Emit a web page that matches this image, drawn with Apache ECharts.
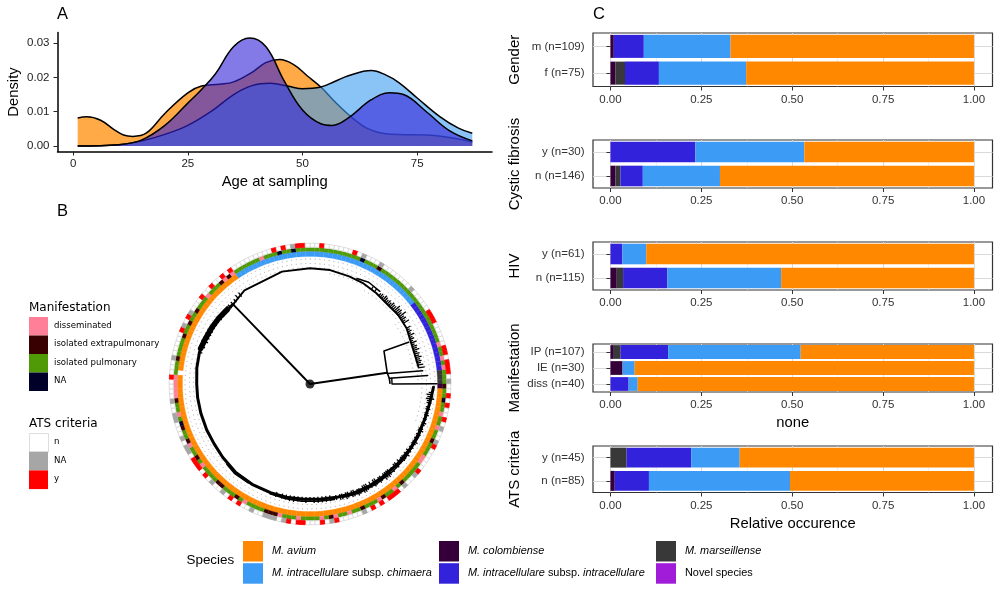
<!DOCTYPE html>
<html><head><meta charset="utf-8">
<style>html,body{margin:0;padding:0;background:#fff}#c{width:1000px;height:591px}</style>
<script src="https://cdn.jsdelivr.net/npm/echarts@6/dist/echarts.min.js"></script>
</head><body><div id="c"></div>
<script>
// ---------- data ----------
const speciesNames = ['M. colombiense','M. marseillense','M. intracellulare subsp. intracellulare','M. intracellulare subsp. chimaera','M. avium','Novel species'];
const speciesColors = ['#35003a','#383838','#3222dc','#3c9bf5','#ff8800','#a01cd8'];

const ageAvium = [[1,.0082],[3,.0085],[6,.0075],[9,.0047],[11,.0032],[13,.0028],[16,.0038],[20,.0095],[25,.0155],[28,.0175],[32,.0180],[35,.0187],[39,.0215],[42,.0243],[45,.0252],[48,.0238],[51,.0205],[54,.0172],[57,.0130],[60,.0092],[64,.0052],[68,.0036],[72,.0033],[77,.0032],[82,.0025],[87,.0012]];
const ageChimaera = [[1,0],[10,.0004],[15,.0015],[20,.0034],[25,.0060],[30,.0100],[35,.0150],[39,.0176],[43,.0183],[47,.0174],[50,.0167],[54,.0172],[57,.0188],[60,.0205],[65,.0220],[68,.0208],[71,.0185],[75,.0140],[80,.0085],[84,.0052],[87,.0037]];
const ageIntracellulare = [[1,0],[10,.0004],[15,.0018],[20,.0060],[25,.0125],[28,.0165],[31,.0210],[35,.0290],[38.5,.0315],[42,.0290],[46,.0190],[50,.0105],[54,.0065],[56.5,.0060],[60,.0082],[65,.0135],[69,.0155],[72,.0150],[77,.0100],[82,.0045],[87,.0015]];
const ageTicks = [0,25,50,75];
const densityTicks = [0,.01,.02,.03];
const shareTicks = [0,.25,.5,.75,1];
const shareMinorTicks = [.125,.375,.625,.875];

// each row: colombiense, marseillense, intracellulare, chimaera, avium, novel (bottom row first)
const genderLabels = ['f (n=75)','m (n=109)'];
const genderRows = [[.0133,.0267,.0933,.24,.6267,0],[.0092,0,.0826,.2385,.6697,0]];
const cfLabels = ['n (n=146)','y (n=30)'];
const cfRows = [[.0137,.0137,.0616,.2123,.6987,0],[0,0,.2333,.3,.4667,0]];
const hivLabels = ['n (n=115)','y (n=61)'];
const hivRows = [[.0174,.0174,.1217,.313,.5305,0],[0,0,.0328,.0656,.9016,0]];
const manifLabels = ['diss (n=40)','IE (n=30)','IP (n=107)'];
const manifRows = [[0,0,.05,.025,.925,0],[.0333,0,0,.0333,.9334,0],[.0093,.0187,.1308,.3645,.4767,0]];
const atsLabels = ['n (n=85)','y (n=45)'];
const atsRows = [[.0118,0,.0941,.388,.5061,0],[0,.0444,.1778,.1333,.6445,0]];

// rings: one cell per 2 degrees, clockwise from the top
const ringCells = 180;
const speciesRuns = [[3,26],[2,16],[1,3],[0,1],[4,91],[-1,1],[4,25],[3,17]];
const manifDisseminated = [36,39,41,51,54,61,62,70,74,81,84,87,92,96,104,116,121,128,132,133,134,135,136,155,160,162,169];
const manifExtrapulmonary = [15,45,57,68,73,78,85,97,98,99,106,110,111,118,122,125,131,140,145,148,151,159,161];
const manifMissing = [11,48,126,173,176];
const atsYes = [2,9,29,30,31,37,38,40,41,42,47,49,52,58,64,70,71,72,74,76,84,87,91,92,94,105,107,114,116,117,118,136,146,149,154,157,160,162,172,174,177,178];
const atsMissing = [11,15,23,44,54,57,65,68,78,85,95,97,98,99,102,109,112,120,121,123,127,128,131,140,147,150,176];

// tree, as [radius, clockwise angle]
const treeTrunkA = [[0,0],[110.7,316]];
const treeTrunkB = [[0,0],[78,81.7]];
const treeNode = [[107,67],[81,66],[78,81.7],[79.5,86],[80,89.5]];
const treeTipA = [[78,82.3],[113.5,83.3]];
const treeTipB = [[79.5,85.9],[118,85.9]];
const treeTipC = [[82,86],[82,90],[127,89.9]];
const treeLower = [[123.5,91.5],[122,96],[121,100],[120,107],[119.5,115],[119.3,123],[118.5,132],[118,142],[118,150],[117.5,158],[116.5,166],[115.6,175],[115.5,183],[115.7,191],[115.7,200],[115.8,210],[115.5,220],[114,230],[113,238],[113,246],[113,255],[113.2,263],[113.3,270],[114.3,278],[115,286],[114,293],[113,300],[112.4,306],[111.3,312],[110.7,316]];
const treeUpper = [[110.7,316],[114.3,325],[115.8,346],[115.7,0],[115.7,10],[114.5,20],[113.9,28],[112.5,36],[111,45],[112,52],[111.5,60],[108.8,72],[109.7,81]];
const treeThick = [[115,288],[114,293],[113.2,300],[112.4,306],[111.3,312]];
const treeDoubleA = [[115.5,24],[117.5,30],[116,37]];
const treeDoubleB = [[118,168],[117.6,176],[117.6,184],[117.2,192],[116.8,200]];
const treeDoubleC = [[120.5,106],[120.8,116],[120.6,128],[120.3,136],[120,146],[119.5,156],[118,164]];
const treeDoubleD = [[116.8,212],[117.2,220],[115.7,226]];
const treeSpikes = [[60,111,116],[61,111,114],[62,111,115],[63,110,113],[64,110,116],[65,110,113],[66,109,114],[67,109,112],[68,109,115],[69,109,112],[70,109,114],[71,109,113],[72,109,115],[73,109,112],[74,109,114],[75,109,113],[76,109,115],[77,109,113],[78,109,114],[79,109,113],[80,109,115],[81.5,109,116],
[38,112,115],[39,112,116],[40,112,115],[41,112,117],[42,111,116],[43,111,115],[44,111,116],[45,111,115],[46,111,117],[47,111,116],[48,111,116],[49,111,119],[50,111,117],[51,111,118],[52,111,116],[53,111,120],[54,111,116],[55,111,117],[56,111,115],[57,111,118],[33,113,116],[35,113,116],
[93,122,124],[94,119,123],[95,117,122],[96,118,124],[97,117,125],[98,118,122],[99,118,123],[101,118,122],[102,118,123],[104,118,122],[105,118,123],[107,118,122],[109,118,123],[110,118,122],[112,117,122],[113,117,123],[115,117,122],[117,117,121],[119,117,123],[120,117,122],[122,117,122],[124,116,122],[126,116,123],[128,116,122],[129,116,122],[131,115,121],[133,115,122],[134,115,121],[136,116,122],[138,115,122],[139,115,123],[140,115,122],[141,115,123],[143,115,121],[144,115,122],[146,114,121],[147,114,122],[149,114,121],[151,114,121],[152,114,122],[153,114,122],[155,115,121],[156,115,122],[158,114,121],[159,114,121],[161,114,120],[162,114,121],[164,114,120],[165,114,120],[167,114,119],[170,113,119],[172,113,119],[174,113,119],[176,113,119],[178,113,119],[180,113,118],[182,113,119],[184,113,118],[186,113,118],[188,113,119],[190,113,119],[192,113,118],[194,113,118],[197,113,118],
[286,112,116],[289,111,117],[292,110,117],[294,110,116],[296,110,116],[298,110,116],[300,110,115],[302,110,115],[304,110,115],[306,109,115],[308,109,114],[310,109,114],[311,109,114],[313,109,114],[314,109,114],[316,109,114],[318,110,114],[320,111,116],[322,111,116]];
const dotRings = [[125,0,360],[120.5,0,360],[116.5,0,360],[112,10,110],[108,30,90],[104,55,82]];

const treeLegendTitles = ['Manifestation','ATS criteria'];
const manifestationKeys = ['disseminated','isolated extrapulmonary','isolated pulmonary','NA'];
const manifestationColors = ['#ff7f98','#380000','#4f9a06','#000028'];
const atsKeys = ['n','NA','y'];
const atsColors = ['#ffffff','#a6a6a6','#ff0000'];

// ---------- build ----------
const FONT = '"Liberation Sans", Arial, sans-serif';
const CX = 310, CY = 384;
const chart = echarts.init(document.getElementById('c'), null, {renderer:'canvas'});
const grids = [], xAxes = [], yAxes = [], series = [];

// density panel
grids.push({left:57.5, width:434.5, top:32.5, height:119, containLabel:false});
xAxes.push({type:'value', gridIndex:0, min:-3.4, max:91.3, splitLine:{show:false},
  axisLine:{onZero:false, lineStyle:{color:'#000', width:1.5}},
  axisTick:{customValues:ageTicks, length:4, lineStyle:{color:'#222', width:1}},
  axisLabel:{customValues:ageTicks, color:'#222', fontFamily:FONT, fontSize:11.5, margin:6},
  name:'Age at sampling', nameLocation:'middle', nameGap:23, nameTextStyle:{color:'#000', fontFamily:FONT, fontSize:14.8}});
yAxes.push({type:'value', gridIndex:0, min:-0.0016, max:.0331, splitLine:{show:false},
  axisLine:{onZero:false, show:true, lineStyle:{color:'#000', width:1.5}},
  axisTick:{show:true, customValues:densityTicks, length:4, lineStyle:{color:'#222', width:1}},
  axisLabel:{customValues:densityTicks, color:'#222', fontFamily:FONT, fontSize:11.5, margin:8, formatter:v=>v.toFixed(2)},
  name:'Density', nameLocation:'middle', nameGap:36, nameTextStyle:{color:'#000', fontFamily:FONT, fontSize:14.8}});
[['Density avium',ageAvium,'rgba(255,136,0,.72)'],['Density chimaera',ageChimaera,'rgba(60,155,240,.6)'],['Density intracellulare',ageIntracellulare,'rgba(50,34,215,.6)']].forEach((d,i)=>{
  series.push({type:'line', name:d[0], xAxisIndex:0, yAxisIndex:0, data:d[1], smooth:.4, showSymbol:false, z:3+i, silent:true,
    lineStyle:{color:'#000', width:1.5}, areaStyle:{color:d[2], opacity:1}});
});

// share panels
const panels = [
 {title:'Gender', labels:genderLabels, rows:genderRows, top:33, bottom:86.5},
 {title:'Cystic fibrosis', labels:cfLabels, rows:cfRows, top:140, bottom:188},
 {title:'HIV', labels:hivLabels, rows:hivRows, top:242, bottom:290},
 {title:'Manifestation', labels:manifLabels, rows:manifRows, top:344, bottom:392, xName:'none'},
 {title:'ATS criteria', labels:atsLabels, rows:atsRows, top:446, bottom:492.5, xName:'Relative occurence'}
];
panels.forEach((p,i)=>{
  const g = i+1;
  grids.push({left:593, width:399.5, top:p.top, height:p.bottom-p.top, show:true, borderColor:'#333', borderWidth:1.2, backgroundColor:'transparent'});
  const xi = xAxes.length;
  xAxes.push({type:'value', gridIndex:g, min:-.048, max:1.051,
    axisLine:{show:false},
    axisTick:{show:true, customValues:shareTicks, length:4, lineStyle:{color:'#333', width:1}},
    splitLine:{show:true, lineStyle:{color:'#d9d9d9', width:1}},
    axisLabel:{customValues:shareTicks, color:'#333', fontFamily:FONT, fontSize:11.5, margin:7, formatter:v=>v.toFixed(2)},
    name:p.xName||'', nameLocation:'middle', nameGap:23.5, nameTextStyle:{color:'#000', fontFamily:FONT, fontSize:14.8}});
  xAxes.push({type:'value', gridIndex:g, min:-.048, max:1.051, position:'top',
    axisLine:{show:false}, axisLabel:{show:false},
    axisTick:{show:false, customValues:shareMinorTicks},
    splitLine:{show:true, lineStyle:{color:'#e6e6e6', width:.6}}});
  const yi = yAxes.length;
  yAxes.push({type:'category', gridIndex:g, data:p.labels,
    axisLine:{show:false},
    axisTick:{show:true, alignWithLabel:true, length:4, lineStyle:{color:'#333', width:1}},
    splitLine:{show:true, alignWithLabel:true, lineStyle:{color:'#d9d9d9', width:1}},
    axisLabel:{color:'#333', fontFamily:FONT, fontSize:11.5, margin:8.5},
    name:p.title, nameLocation:'middle', nameGap:71, nameTextStyle:{color:'#000', fontFamily:FONT, fontSize:15}});
  speciesNames.forEach((n,s)=>{
    series.push({type:'bar', name:n, xAxisIndex:xi, yAxisIndex:yi, stack:'p'+i, barWidth:'86%', silent:true,
      itemStyle:{color:speciesColors[s]}, data:p.rows.map(r=>r[s]), z:4});
  });
});

// rings
function sectorItem(params, api, r0v, r1v, a0, a1, style){
  const cs = params.coordSys;
  const R = v => { const p = api.coord([v,0]); return Math.hypot(p[0]-cs.cx, p[1]-cs.cy); };
  return {type:'sector', shape:{cx:cs.cx, cy:cs.cy, r0:R(r0v), r:R(r1v),
    startAngle:(a0-90)*Math.PI/180, endAngle:(a1-90)*Math.PI/180, clockwise:true}, style};
}
function cellsFromRuns(runs){ const out=[]; let at=0; runs.forEach(r=>{ for(let k=0;k<r[1];k++) out.push([at++, r[0]]); }); return out; }
const speciesCells = cellsFromRuns(speciesRuns);
const manifCells = [], atsCells = [];
for(let i=0;i<ringCells;i++){
  manifCells.push([i, manifDisseminated.includes(i)?0:manifExtrapulmonary.includes(i)?1:manifMissing.includes(i)?3:2]);
  atsCells.push([i, atsYes.includes(i)?2:atsMissing.includes(i)?1:0]);
}
const step = 360/ringCells;
const polarBase = {coordinateSystem:'polar', polarIndex:0, silent:true};
series.push({...polarBase, type:'custom', name:'Dotted rings', z:2, data:dotRings, renderItem:(params,api)=>{
  const cs=params.coordSys, p=api.coord([api.value(0),0]);
  return {type:'arc', shape:{cx:cs.cx, cy:cs.cy, r:Math.hypot(p[0]-cs.cx,p[1]-cs.cy),
    startAngle:(api.value(1)-90)*Math.PI/180, endAngle:(api.value(2)-90)*Math.PI/180, clockwise:true},
    style:{fill:null, stroke:'#9a9a9a', lineWidth:.9, lineDash:[1,3.7]}};
}});
series.push({...polarBase, type:'custom', name:'Species ring', z:3, data:speciesCells, renderItem:(params,api)=>{
  const i=api.value(0), c=api.value(1);
  const col = c<0 ? '#ffffff' : speciesColors[c];
  return sectorItem(params,api,127.6,132.8,i*step,(i+1)*step,{fill:col, stroke:col, lineWidth:.3});
}});
series.push({...polarBase, type:'custom', name:'Manifestation ring', z:3, data:manifCells, renderItem:(params,api)=>{
  const i=api.value(0), col=manifestationColors[api.value(1)];
  return sectorItem(params,api,132.8,136.6,i*step,(i+1)*step,{fill:col, stroke:col, lineWidth:.3});
}});
series.push({...polarBase, type:'custom', name:'ATS ring', z:3, data:atsCells, renderItem:(params,api)=>{
  const i=api.value(0), col=atsColors[api.value(1)];
  return sectorItem(params,api,136.8,140.8,i*step,(i+1)*step,{fill:col, stroke:col==='#ffffff'?'#d4d4d4':col, lineWidth:.8});
}});
// tree
[[treeTrunkA,1.9],[treeTrunkB,1.9],[treeNode,1.6],[treeTipA,1.4],[treeTipB,1.4],[treeTipC,1.4],[treeLower,3],[treeUpper,1.9],[treeThick,5.5],[treeDoubleA,1.4],[treeDoubleB,1.6],[treeDoubleC,1.6],[treeDoubleD,1.3]].forEach((t,i)=>{
  series.push({...polarBase, type:'line', name:'Tree '+i, data:t[0], showSymbol:false, clip:false, z:5, lineStyle:{color:'#000', width:t[1], cap:'round', join:'round'}});
});
series.push({...polarBase, type:'custom', name:'Tree tips', z:5, data:treeSpikes, renderItem:(params,api)=>{
  const a=api.value(0), p=api.coord([api.value(1),a]), q=api.coord([api.value(2),a]);
  return {type:'line', shape:{x1:p[0],y1:p[1],x2:q[0],y2:q[1]}, style:{stroke:'#000', lineWidth:1.3}};
}});
series.push({...polarBase, type:'scatter', name:'Tree root', data:[[0,0]], symbolSize:9, z:6, itemStyle:{color:'#000'}});

// legends
const rich = {i:{fontStyle:'italic', fontFamily:FONT, fontSize:10.9, color:'#000'}, n:{fontFamily:FONT, fontSize:10.9, color:'#000'}, s:{width:4, fontSize:10.9}};
const legendText = name => {
  const m = name.match(/^(M\. intracellulare) (subsp\.) (.*)$/);
  if (m) return `{s| }{i|${m[1]}}{n| ${m[2]} }{i|${m[3]}}`;
  return name.startsWith('M.') ? `{s| }{i|${name}}` : `{s| }{n|${name}}`;
};
const mkLegend = (left,names)=>({left, top:541, orient:'vertical', icon:'rect', itemWidth:20, itemHeight:20.5, itemGap:1.7,
  selectedMode:false, data:names, formatter:legendText, textStyle:{rich, fontFamily:FONT, fontSize:10.9}, padding:0, itemStyle:{borderWidth:0}});

const graphics = [];
const txt = (x,y,t,font,extra)=>graphics.push({type:'text', left:x, top:y, silent:true, style:Object.assign({text:t, font, fill:'#000'}, extra||{})});
txt(57,6,'A','16.5px '+FONT); txt(57,203,'B','16.5px '+FONT); txt(593,6,'C','16.5px '+FONT);
txt(186.5,554,'Species','13.4px '+FONT);
const DJ = '"DejaVu Sans"';
const keyBlock = (title,titleY,keys,cols,topY,h)=>{
  txt(29,titleY,title,'12px '+DJ);
  keys.forEach((k,i)=>{
    graphics.push({type:'rect', left:29, top:topY+i*h, shape:{width:19,height:h}, silent:true,
      style:{fill:cols[i], stroke:cols[i]==='#ffffff'?'#dddddd':null, lineWidth:1}});
    txt(54,topY+i*h+h/2-5,k,'8.6px '+DJ);
  });
};
keyBlock(treeLegendTitles[0],302,manifestationKeys,manifestationColors,317,18.5);
keyBlock(treeLegendTitles[1],418,atsKeys,atsColors,433,18.7);

chart.setOption({
  animation:false, backgroundColor:'#fff', textStyle:{fontFamily:FONT},
  grid:grids, xAxis:xAxes, yAxis:yAxes,
  polar:{center:[CX,CY], radius:142},
  angleAxis:{type:'value', min:0, max:360, startAngle:90, clockwise:true, show:false},
  radiusAxis:{type:'value', min:0, max:142, show:false},
  legend:[mkLegend(243,[speciesNames[4],speciesNames[3]]), mkLegend(439,[speciesNames[0],speciesNames[2]]), mkLegend(656,[speciesNames[1],speciesNames[5]])],
  graphic:{elements:graphics},
  series
});
</script></body></html>
